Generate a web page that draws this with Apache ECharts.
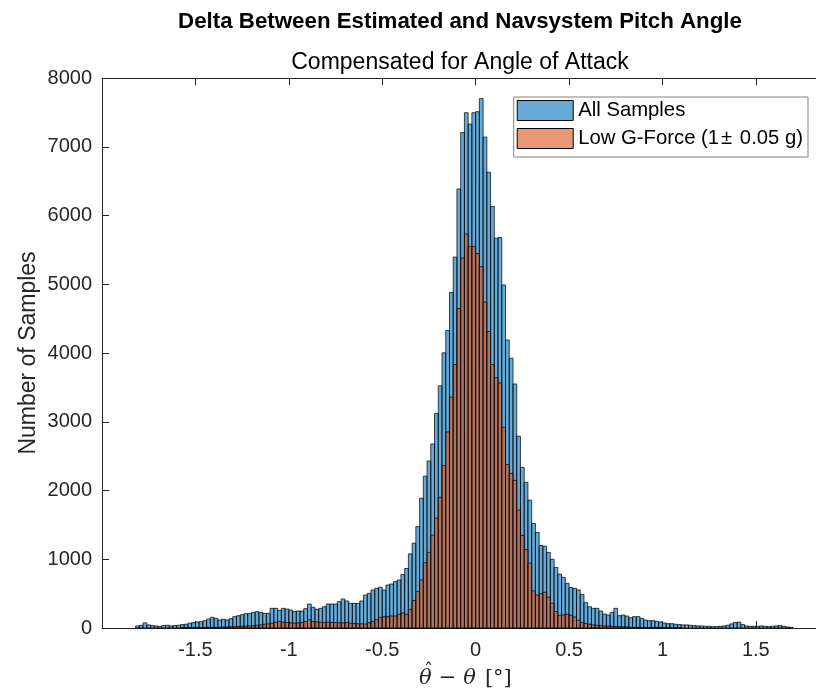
<!DOCTYPE html>
<html>
<head>
<meta charset="utf-8">
<script src="https://cdn.jsdelivr.net/npm/echarts@6/dist/echarts.min.js"></script>
<style>
html,body{margin:0;padding:0;background:#fff;}
#chart{width:816px;height:695px;}
</style>
</head>
<body>
<div id="chart"></div>
<script>
// ---- data ----
const binStart = -1.82;
const binWidth = 0.02;
const xMin = -2;
const xMax = 1.822;
const xTickLabels = ['-1.5', '-1', '-0.5', '0', '0.5', '1', '1.5'];
const yTickLabels = ['0', '1000', '2000', '3000', '4000', '5000', '6000', '7000', '8000'];
const seriesNames = ['All Samples', 'Low G-Force (1\u00b1 0.05 g)'];

const allSamples = [
  30,40,75,45,35,30,20,35,40,30, 35,40,50,55,70,78,88,92,107,131,
  155,141,116,126,116,136,165,179,194,208, 213,223,238,228,213,213,286,286,257,286,
  276,262,238,247,247,281,349,301,272,286, 310,349,349,349,383,422,393,359,359,359,
  393,480,504,553,577,592,553,625,640,674, 698,
  779,866,1078,1233,1475,1888,2208,2429,2677,3121,3523,4003,4328,4879,5395,6386,7206,7495,7329,7495,7510,7701,
  7140,6630,6130,5670,5680,4990,4190,3925,3550,2790,2336,2120,1860,
  1520,1390,1200,1190,1100, 1000,880,785,737,650, 590,577,553,490,368, 310,286,286,247,204,
  189,228,286,179,189, 174,150,165,165,141, 116,107,107,97,87, 73,63,63,55,50,
  45,45,40,35,30, 30,25,25,20,20, 25,30,40,60,80, 85,50,30,25,25,
  25,30,25,20,25, 30,35,25,15,10
];

const lowGForce = [
  0,0,0,0,0,0,0,0,0,0,0,0, 2,3,3,4,5,5,6,8,10,
  10,12,15,15,18,20,22,25,28,30, 35,40,45,55,60,70,85,95,85,80,
  75,70,75,80,95,120,95,90,85,80, 85,80,80,75,75,78,70,65,62,60,
  58,75,95,120,155,165,165,175,175,200,
  220,200,270,400,530,700,950,1100,1350,1600,1900,2362,2852,3358,3832,4647,5380,5730,5550,5550,5447,5256,
  4740,4312,3832,3641,3564,2919,2378,2249,2146,1718,1346,1140,944,
  540,480,500,520,450, 360,240,180,190,200, 185,160,115,80,65, 55,45,40,35,30,
  28,25,22,20,18, 15,12,10,10,8, 6,5,5,4,3, 3,2,2,1,1,
  0,0,0,0,0, 0,0,0,0,0, 0,0,0,0,0, 0,0,0,0,0, 0,0,0,0,0, 0,0,0,0,0
];

function toBins(arr) {
  return arr.map(function (c, i) {
    const x0 = binStart + i * binWidth;
    return [x0, x0 + binWidth, c];
  });
}

const BLUE_FILL = 'rgba(0,114,189,0.6)';
const ORANGE_FILL = 'rgba(217,83,25,0.6)';

function makeRender(fill) {
  return function (params, api) {
    const x0 = api.value(0), x1 = api.value(1), v = api.value(2);
    if (v <= 0) return null;
    const p0 = api.coord([x0, 0]);
    const p1 = api.coord([x1, v]);
    return {
      type: 'rect',
      shape: { x: p0[0], y: p1[1], width: p1[0] - p0[0], height: p0[1] - p1[1] },
      style: { fill: fill, stroke: 'rgba(0,0,0,0.9)', lineWidth: 0.8 }
    };
  };
}

const FONT = '"Liberation Sans", Arial, Helvetica, sans-serif';
const SERIF = '"DejaVu Serif", "Liberation Serif", serif';
const AX = '#262626';

const chart = echarts.init(document.getElementById('chart'), null, { renderer: 'canvas' });

const option = {
  backgroundColor: '#fff',
  animation: false,
  title: [
    { text: 'Delta Between Estimated and Navsystem Pitch Angle', left: 455, top: 6, textAlign: 'center',
      textStyle: { fontFamily: FONT, fontSize: 22.3, fontWeight: 'bold', color: '#000' } },
    { text: 'Compensated for Angle of Attack', left: 455, top: 46, textAlign: 'center',
      textStyle: { fontFamily: FONT, fontSize: 23, fontWeight: 'normal', color: '#000' } }
  ],
  grid: { left: 102, top: 78, right: 0, height: 550, containLabel: false, outerBoundsMode: 'none' },
  legend: {
    orient: 'vertical', right: 8, top: 97,
    itemWidth: 56, itemHeight: 20, itemGap: 7,
    padding: [3, 5, 8, 3],
    borderColor: '#808080', borderWidth: 1, backgroundColor: '#fff',
    textStyle: {
      fontFamily: FONT, fontSize: 20.3, color: '#000',
      rich: { pm: { fontFamily: FONT, fontSize: 20.3, color: '#000', padding: [0, 2, 0, 2] } }
    },
    formatter: function (name) { return name.replace('\u00b1', '{pm|\u00b1}'); },
    data: [
      { name: seriesNames[0], icon: 'rect', itemStyle: { color: 'rgb(102,170,215)', borderColor: '#000', borderWidth: 1 } },
      { name: seriesNames[1], icon: 'rect', itemStyle: { color: 'rgb(232,152,117)', borderColor: '#000', borderWidth: 1 } }
    ]
  },
  xAxis: [
    {
      type: 'value', min: xMin, max: xMax, interval: 0.5, position: 'bottom',
      axisLine: { show: true, onZero: false, lineStyle: { color: AX, width: 1 } },
      axisTick: { show: true, inside: true, length: 7, lineStyle: { color: AX } },
      splitLine: { show: false },
      axisLabel: {
        margin: 12, color: AX, fontFamily: FONT, fontSize: 20,
        showMinLabel: false, showMaxLabel: false,
        formatter: function (v) {
          const s = String(Math.round(v * 10) / 10 + 0);
          return xTickLabels.indexOf(s) >= 0 ? s : '';
        }
      }
    },
    {
      type: 'value', min: xMin, max: xMax, interval: 0.5, position: 'top',
      axisLine: { show: true, onZero: false, lineStyle: { color: AX, width: 1 } },
      axisTick: { show: true, inside: true, length: 7, lineStyle: { color: AX } },
      axisLabel: { show: false }, splitLine: { show: false }
    }
  ],
  yAxis: [
    {
      type: 'value', min: 0, max: 8000, interval: 1000, position: 'left',
      axisLine: { show: true, onZero: false, lineStyle: { color: AX, width: 1 } },
      axisTick: { show: true, inside: true, length: 7, lineStyle: { color: AX } },
      splitLine: { show: false },
      axisLabel: {
        margin: 10, color: AX, fontFamily: FONT, fontSize: 20,
        formatter: function (v) { const s = String(v); return yTickLabels.indexOf(s) >= 0 ? s : ''; }
      }
    }
  ],
  graphic: [
    {
      type: 'text', x: 29, y: 353, rotation: Math.PI / 2, z: 10,
      style: {
        text: 'Number of Samples', font: '23px ' + FONT, fill: AX,
        align: 'center', verticalAlign: 'middle'
      }
    },
    {
      type: 'text', x: 419, y: 668, z: 10,
      style: {
        text: '{i|\u03b8}{s|\u2212}{i|\u03b8}{b|[\u00b0]}',
        rich: {
          i: { fontFamily: SERIF, fontStyle: 'italic', fontSize: 21, fill: AX },
          s: { fontFamily: SERIF, fontSize: 21, fill: AX, padding: [0, 7, 0, 7] },
          b: { fontFamily: SERIF, fontSize: 21, fill: AX, padding: [0, 0, 0, 9] }
        }
      }
    },
    {
      type: 'text', x: 424, y: 663, z: 10,
      style: { text: '\u02c6', font: '18px ' + SERIF, fill: AX }
    }
  ],
  series: [
    {
      name: seriesNames[0], type: 'custom', xAxisIndex: 0, yAxisIndex: 0,
      renderItem: makeRender(BLUE_FILL),
      itemStyle: { color: 'rgb(102,170,215)' },
      encode: { x: [0, 1], y: 2 },
      data: toBins(allSamples), z: 2
    },
    {
      name: seriesNames[1], type: 'custom', xAxisIndex: 0, yAxisIndex: 0,
      renderItem: makeRender(ORANGE_FILL),
      itemStyle: { color: 'rgb(232,152,117)' },
      encode: { x: [0, 1], y: 2 },
      data: toBins(lowGForce), z: 3
    }
  ]
};
chart.setOption(option);
</script>
</body>
</html>
